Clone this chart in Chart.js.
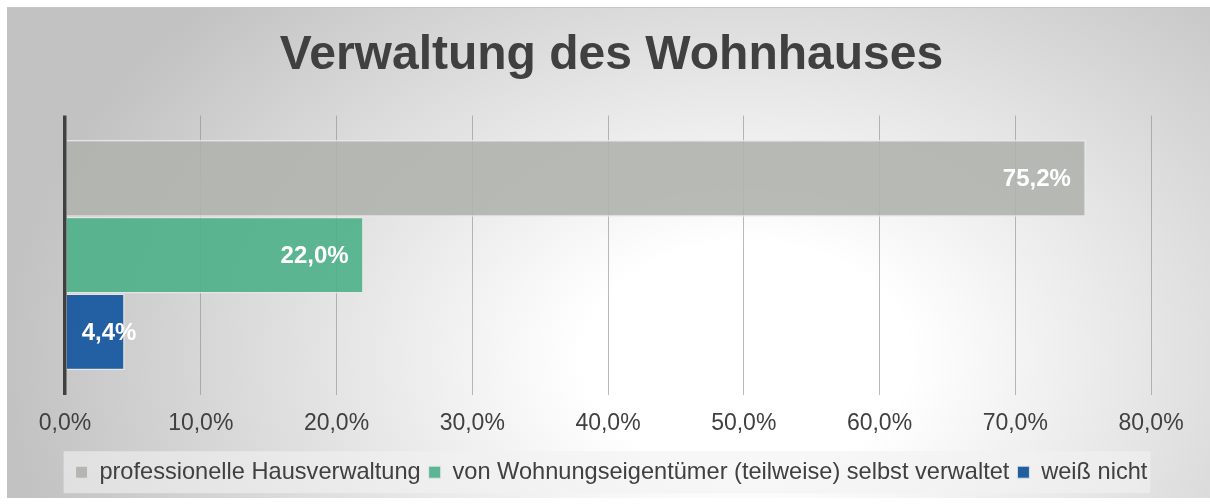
<!DOCTYPE html>
<html>
<head>
<meta charset="utf-8">
<script src="https://cdn.jsdelivr.net/npm/chart.js@4.4.1/dist/chart.umd.min.js"></script>
<style>
  html, body { margin: 0; padding: 0; background: #fff; }
  #wrap {
    position: absolute; left: 7px; top: 7px;
    width: 1203px; height: 490px;
    border-top: 1px solid #c8c8c8;
  }
</style>
</head>
<body>
<div id="wrap"><canvas id="chart"></canvas></div>
<script>
const categories = ['Verwaltung']
const seriesNames = ['professionelle Hausverwaltung', 'von Wohnungseigentümer (teilweise) selbst verwaltet', 'weiß nicht']
const seriesValues = [75.2, 22.0, 4.4]
const seriesColors = ['rgba(176,178,174,0.9)', 'rgba(78,176,136,0.9)', 'rgba(24,88,160,0.95)']
const legendColors = ['#b4b6b2', '#5db593', '#215e9f']
const tickValues = [0, 10, 20, 30, 40, 50, 60, 70, 80]

const FONT = '"Liberation Sans", Arial, sans-serif'
const fmt = (v) => v.toFixed(1).replace('.', ',') + '%'

// radial background + legend backdrop
const backdrop = {
  id: 'backdrop',
  beforeDraw (chart) {
    const { ctx } = chart
    ctx.save()
    ctx.translate(740, 350)
    ctx.scale(1, 0.7)
    const g = ctx.createRadialGradient(0, 0, 0, 0, 0, 740)
    g.addColorStop(0, '#ffffff')
    g.addColorStop(0.22, '#ffffff')
    g.addColorStop(1, '#c2c2c2')
    ctx.fillStyle = g
    ctx.fillRect(-900, -900, 2000, 1800)
    ctx.restore()

    const boxes = chart.legend && chart.legend.legendHitBoxes
    if (boxes && boxes.length) {
      const left = Math.min(...boxes.map(b => b.left)) - 12
      const right = Math.max(...boxes.map(b => b.left + b.width)) + 3
      const cy = boxes[0].top + boxes[0].height / 2
      ctx.save()
      ctx.fillStyle = 'rgba(242,242,242,0.6)'
      ctx.fillRect(left, cy - 21, right - left, 42)
      ctx.restore()
    }
  }
}

const barLabels = {
  id: 'barLabels',
  afterDatasetsDraw (chart) {
    const { ctx } = chart
    ctx.save()
    ctx.font = 'bold 24px ' + FONT
    ctx.fillStyle = '#ffffff'
    ctx.textBaseline = 'middle'
    ctx.textAlign = 'left'
    chart.data.datasets.forEach((ds, i) => {
      chart.getDatasetMeta(i).data.forEach((bar, j) => {
        const txt = fmt(ds.data[j])
        const w = ctx.measureText(txt).width
        const x = Math.max(bar.x - 15 - w, bar.base + 15)
        ctx.fillText(txt, x, bar.y + 1)
      })
    })
    ctx.restore()
  }
}

const hiddenSide = (position, width) => ({
  type: 'category',
  position,
  display: true,
  ticks: { display: false },
  grid: { display: false },
  border: { display: false },
  afterFit: (s) => { s.width = width }
})

new Chart(document.getElementById('chart'), {
  type: 'bar',
  data: {
    labels: categories,
    datasets: seriesNames.map((name, i) => ({
      label: name,
      data: [seriesValues[i]],
      backgroundColor: seriesColors[i],
      borderColor: 'rgba(232,232,232,0.9)',
      borderWidth: 1.5,
      categoryPercentage: 0.825,
      barPercentage: 1
    }))
  },
  options: {
    indexAxis: 'y',
    responsive: true,
    maintainAspectRatio: false,
    animation: false,
    layout: { padding: { left: 25, right: 19, top: 0, bottom: 4 } },
    plugins: {
      title: {
        display: true,
        text: 'Verwaltung des Wohnhauses',
        color: '#404040',
        font: { family: FONT, size: 48, weight: 'bold' },
        padding: { top: 19, bottom: 31 }
      },
      legend: {
        position: 'bottom',
        labels: {
          color: '#404040',
          font: { family: FONT, size: 23.6 },
          boxWidth: 12,
          boxHeight: 12,
          padding: 8,
          generateLabels: (chart) => chart.data.datasets.map((ds, i) => ({
            text: ds.label,
            fillStyle: legendColors[i],
            strokeStyle: 'rgba(230,230,230,0.9)',
            lineWidth: 1,
            datasetIndex: i,
            fontColor: '#404040'
          }))
        }
      },
      tooltip: { enabled: false }
    },
    scales: {
      x: {
        min: 0,
        max: 80,
        afterBuildTicks: (axis) => { axis.ticks = tickValues.map(v => ({ value: v })) },
        ticks: {
          color: '#404040',
          font: { family: FONT, size: 23 },
          padding: 15,
          callback: (v) => fmt(v)
        },
        grid: {
          drawTicks: false,
          color: (c) => c.tick && c.tick.value === 0 ? '#404040' : 'rgba(140,140,140,0.6)',
          lineWidth: (c) => c.tick && c.tick.value === 0 ? 3.5 : 1
        },
        border: { display: false }
      },
      y: hiddenSide('left', 33),
      y2: hiddenSide('right', 40)
    }
  },
  plugins: [backdrop, barLabels]
})
</script>
</body>
</html>
